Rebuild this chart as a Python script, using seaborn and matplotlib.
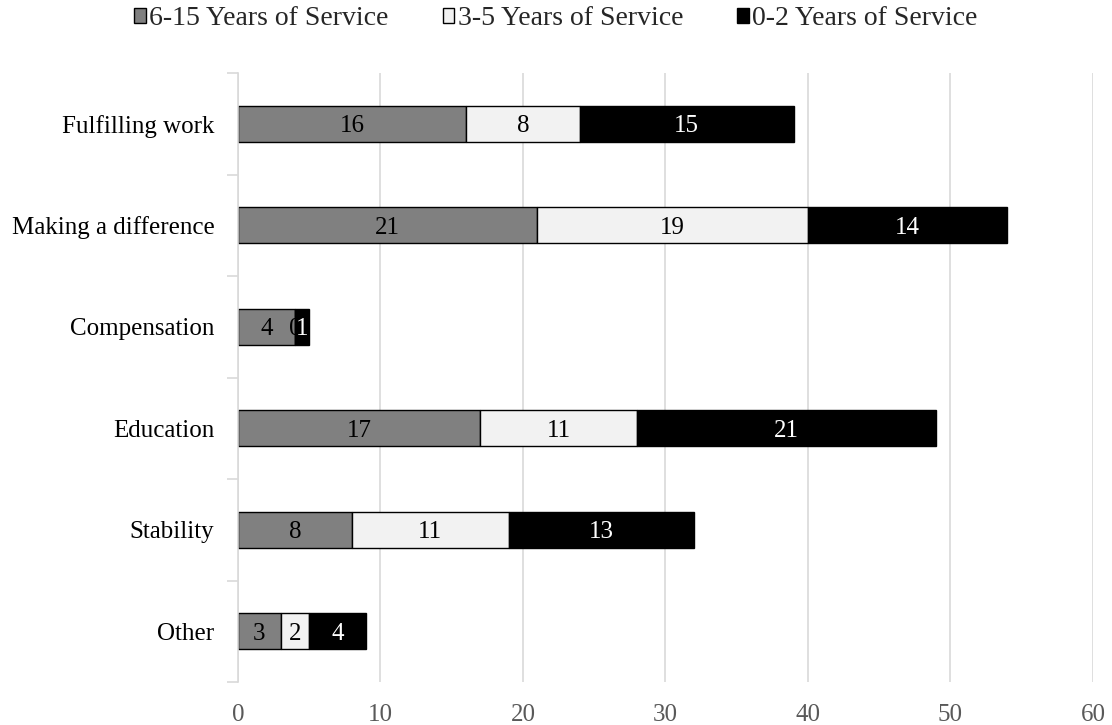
import numpy as np
import pandas as pd
import matplotlib
matplotlib.use("Agg")
import matplotlib.pyplot as plt
from matplotlib.patches import Patch
import seaborn as sns

categories = ["Fulfilling work", "Making a difference", "Compensation",
              "Education", "Stability", "Other"]
series_names = ["6-15 Years of Service", "3-5 Years of Service", "0-2 Years of Service"]
yrs_6_15 = [16, 21, 4, 17, 8, 3]
yrs_3_5 = [8, 19, 0, 11, 11, 2]
yrs_0_2 = [15, 14, 1, 21, 13, 4]
x_ticks = [0, 10, 20, 30, 40, 50, 60]

fills = ["#808080", "#f2f2f2", "#000000"]
text_colors = ["black", "black", "white"]
serif = ["Liberation Serif", "DejaVu Serif"]

sns.set_theme(style="white")
plt.rcParams["font.family"] = serif

fig = plt.figure(figsize=(11.12, 7.25), dpi=100)
ax = fig.add_axes([0.214, 0.0593, 0.7689, 0.84])

# stacked horizontal bars: each series starts where the previous one ended
series = [yrs_6_15, yrs_3_5, yrs_0_2]
left = np.zeros(len(categories))
for i, (name, vals) in enumerate(zip(series_names, series)):
    df = pd.DataFrame({"category": categories, "value": vals})
    sns.barplot(data=df, x="value", y="category", orient="y", order=categories,
                color=fills[i], saturation=1, width=0.355, edgecolor="black",
                linewidth=1.0, left=left.copy(), ax=ax, zorder=2 + 2 * i)
    cont = ax.containers[-1]
    texts = ax.bar_label(cont, labels=[str(v) for v in vals], label_type="center",
                         color=text_colors[i], fontsize=18, family=serif,
                         zorder=3 + 2 * i)
    for t in texts:
        t.xyann = (0, -1.8)
    left = left + np.array(vals)

ax.set_xlim(0, 60)
ax.set_ylim(len(categories) - 0.5, -0.5)
ax.set_xticks(x_ticks)
ax.set_xticklabels([str(t) for t in x_ticks], family=serif)
ax.set_yticks(range(len(categories)))
ax.set_yticklabels(categories, family=serif)
ax.xaxis.grid(True, color="#d9d9d9", linewidth=1.2)
ax.set_axisbelow(True)
ax.set_xlabel("")
ax.set_ylabel("")

for side in ["top", "right", "bottom"]:
    ax.spines[side].set_visible(False)
ax.spines["left"].set_color("#d9d9d9")
ax.spines["left"].set_linewidth(1.2)

ax.tick_params(axis="x", length=0, pad=16, labelsize=18, labelcolor="#595959")
ax.tick_params(axis="y", which="major", length=0, pad=17, labelsize=18, labelcolor="black")
ax.set_yticks(np.arange(-0.5, len(categories), 1.0), minor=True)
ax.tick_params(axis="y", which="minor", length=8, width=1.2, color="#d9d9d9", left=True)

handles = [Patch(facecolor=c, edgecolor="black", linewidth=1.0) for c in fills]
fig.legend(handles, series_names, loc="center", bbox_to_anchor=(0.5, 0.974),
           ncol=3, frameon=False, prop={"family": serif, "size": 20},
           handlelength=0.42, handleheight=0.42,
           handletextpad=0.12, columnspacing=1.95, borderpad=0, borderaxespad=0)

fig.savefig("out.png", dpi=100)
